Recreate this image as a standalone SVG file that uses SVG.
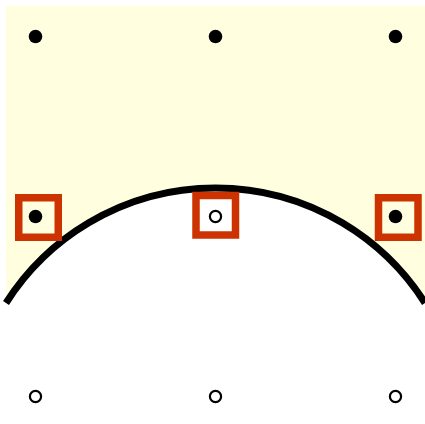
<svg xmlns="http://www.w3.org/2000/svg" width="425" height="424" viewBox="0 0 425 424">
<style>
.bg{fill:#ffffe0}
.arc{fill:none;stroke:#000;stroke-width:7}
.sq{fill:none;stroke:#cc3300;stroke-width:7.5}
.dot{fill:#000}
.ring{fill:#fff;stroke:#000;stroke-width:2.2}
</style>
<rect width="425" height="424" fill="#fff"/>
<path class="bg" d="M6,6 H425 V303 A248.3,248.3 0 0 0 6,303 Z"/>
<g id="connectors">
<path class="arc" d="M6,303 A248.3,248.3 0 0 1 425,303"/>
</g>
<g id="p00"><circle class="dot" cx="35.5" cy="36.5" r="6.8"/></g>
<g id="p10"><circle class="dot" cx="215.5" cy="36.5" r="6.8"/></g>
<g id="p20"><circle class="dot" cx="395.5" cy="36.5" r="6.8"/></g>
<g id="p01"><rect class="sq" x="18.75" y="197.75" width="39.5" height="39.5"/><circle class="dot" cx="35.5" cy="216.5" r="6.8"/></g>
<g id="p11"><rect class="sq" x="196" y="195.5" width="39.5" height="39.5"/><circle class="ring" cx="215.5" cy="216.5" r="5.6"/></g>
<g id="p21"><rect class="sq" x="378.5" y="197.75" width="39.5" height="39.5"/><circle class="dot" cx="395.5" cy="216.5" r="6.8"/></g>
<g id="p02"><circle class="ring" cx="35.5" cy="396.5" r="5.6"/></g>
<g id="p12"><circle class="ring" cx="215.5" cy="396.5" r="5.6"/></g>
<g id="p22"><circle class="ring" cx="395.5" cy="396.5" r="5.6"/></g>
</svg>
